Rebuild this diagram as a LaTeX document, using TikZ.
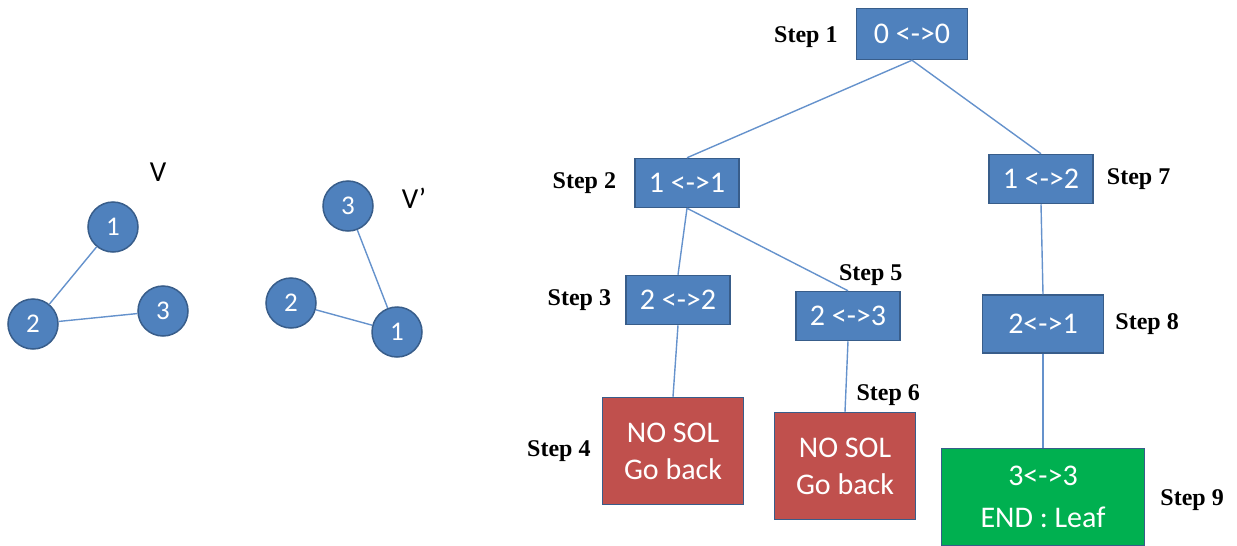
\documentclass[tikz,border=0pt]{standalone}
\usepackage{fontspec}
\setmainfont{Carlito}
\newfontfamily\stepfont{Liberation Serif}
\usetikzlibrary{positioning}
\definecolor{nodeblue}{HTML}{4F81BD}
\definecolor{rimblue}{HTML}{385D8A}
\definecolor{failred}{HTML}{C0504D}
\definecolor{leafgreen}{HTML}{00B050}
\definecolor{edgeblue}{HTML}{6592CC}

\begin{document}
\begin{tikzpicture}[
  x=1pt, y=-1pt,
  vert/.style={circle, draw=rimblue, line width=1.5pt, fill=nodeblue,
               text=white, minimum size=50pt, inner sep=0pt,
               font=\fontsize{27}{30}\selectfont},
  graphlab/.style={inner sep=0pt, font=\fontsize{29}{32}\selectfont},
  pairbox/.style={draw=rimblue, line width=1.5pt, fill=nodeblue, text=white,
                  minimum width=104pt, minimum height=49pt, inner sep=0pt,
                  font=\fontsize{30}{34}\selectfont},
  failbox/.style={pairbox, fill=failred, minimum width=141pt, minimum height=107pt,
                  align=center, font=\fontsize{30}{37}\selectfont},
  leafbox/.style={pairbox, fill=leafgreen, minimum width=203pt, minimum height=97pt,
                  align=center, font=\fontsize{30}{42}\selectfont},
  steplab/.style={inner sep=0pt, font=\stepfont\bfseries\fontsize{24}{28}\selectfont},
  link/.style={edgeblue, line width=1.4pt}
]
\useasboundingbox (0,0) rectangle (1237,546);

% graph V
\node[vert] (v1) at (113,227) {1};
\node[vert] (v2) at (33,324) {2};
\node[vert] (v3) at (163,311) {3};
\node[graphlab] (vlab) at (158,172) {V};
\draw[link] (v1) -- (v2);
\draw[link] (v2) -- (v3);

% graph V'
\node[vert] (w3) at (348,206) {3};
\node[vert] (w2) at (291,303) {2};
\node[vert] (w1) at (397,332) {1};
\node[graphlab] (wlab) at (414,198) {V’};
\draw[link] (w3) -- (w1);
\draw[link] (w2) -- (w1);

% search tree
\node[pairbox, minimum width=111pt, minimum height=51pt] (s1) at (912,34) {0 <->0};
\node[pairbox] (s2) at (687,183) {1 <->1};
\node[pairbox] (s3) at (678,300) {2 <->2};
\node[failbox] (s4) at (673,451) {NO SOL\\Go back};
\node[pairbox] (s5) at (848,316) {2 <->3};
\node[failbox] (s6) at (845,466) {NO SOL\\Go back};
\node[pairbox] (s7) at (1041,179) {1 <->2};
\node[pairbox, minimum width=121pt, minimum height=58pt] (s8) at (1043,324) {2<->1};
\node[leafbox] (s9) at (1043,497) {3<->3\\END : Leaf};

% step labels
\node[steplab, left=18pt of s1, yshift=-3pt] (l1) {Step 1};
\node[steplab, left=18pt of s2] (l2) {Step 2};
\node[steplab, left=14pt of s3] (l3) {Step 3};
\node[steplab, left=11pt of s4] (l4) {Step 4};
\node[steplab, above=5pt of s5.north east, xshift=-30pt] (l5) {Step 5};
\node[steplab, above=6pt of s6.north east, xshift=-28pt] (l6) {Step 6};
\node[steplab, right=13pt of s7] (l7) {Step 7};
\node[steplab, right=11pt of s8] (l8) {Step 8};
\node[steplab, right=15pt of s9, yshift=-3pt] (l9) {Step 9};

% links
\draw[link] (s1.south) -- (s2.north);
\draw[link] (s1.south) -- (s7.north);
\draw[link] (s2.south) -- (s3.north);
\draw[link] (s2.south) -- (s5.north);
\draw[link] (s3.south) -- (s4.north);
\draw[link] (s5.south) -- (s6.north);
\draw[link] (s7.south) -- (s8.north);
\draw[link] (s8.south) -- (s9.north);
\end{tikzpicture}
\end{document}
